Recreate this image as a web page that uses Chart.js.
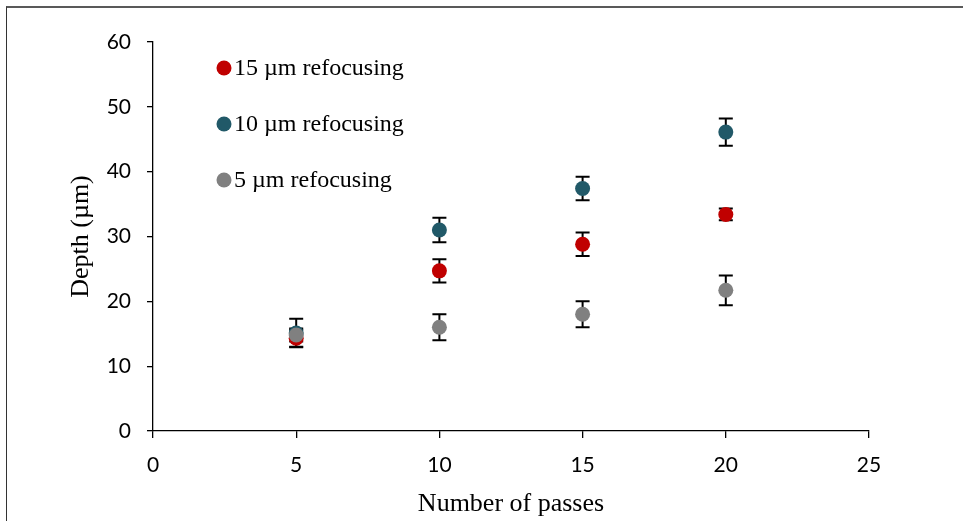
<!DOCTYPE html>
<html>
<head>
<meta charset="utf-8">
<script src="https://cdn.jsdelivr.net/npm/chart.js@4/dist/chart.umd.min.js"></script>
<style>
  html, body { margin: 0; padding: 0; background: #fff; }
  #wrap { position: relative; width: 963px; height: 521px; overflow: hidden; }
  #frame { position: absolute; left: 6px; top: 6px; width: 970px; height: 530px;
           border-top: 2px solid #595959; border-left: 1px solid #333; }
  canvas { position: absolute; left: 0; top: 0; }
</style>
</head>
<body>
<div id="wrap">
  <div id="frame"></div>
  <canvas id="c" width="963" height="521"></canvas>
</div>
<script>
// Number of passes
const passes = [5, 10, 15, 20];

// Mean depth (µm) for each refocusing step
const depth15 = [14.3, 24.7, 28.8, 33.4];
const depth10 = [15.1, 31.0, 37.4, 46.1];
const depth5  = [14.8, 16.0, 18.0, 21.7];

// Standard deviation (µm)
const err15 = [1.3, 1.8, 1.8, 0.9];
const err10 = [2.2, 1.9, 1.8, 2.1];
const err5  = [1.0, 2.0, 2.0, 2.3];

const seriesNames = ['15 µm refocusing', '10 µm refocusing', '5 µm refocusing'];
const seriesColors = ['#c00000', '#215968', '#808080'];

const xTicks = [0, 5, 10, 15, 20, 25];
const yTicks = [0, 10, 20, 30, 40, 50, 60];

const toPoints = (ys) => passes.map((x, i) => ({ x: x, y: ys[i] }));

const seriesData = [depth15, depth10, depth5];
const seriesErr = [err15, err10, err5];

// Vertical error bars with caps, drawn beneath the markers
const errorBars = {
  id: 'errorBars',
  beforeDatasetsDraw(chart) {
    const { ctx, scales: { x, y } } = chart;
    ctx.save();
    ctx.strokeStyle = '#000';
    ctx.lineWidth = 2;
    const cap = 7;
    seriesData.forEach((vals, s) => {
      vals.forEach((v, i) => {
        const px = x.getPixelForValue(passes[i]);
        const top = y.getPixelForValue(v + seriesErr[s][i]);
        const bot = y.getPixelForValue(v - seriesErr[s][i]);
        ctx.beginPath();
        ctx.moveTo(px, top); ctx.lineTo(px, bot);
        ctx.moveTo(px - cap, top); ctx.lineTo(px + cap, top);
        ctx.moveTo(px - cap, bot); ctx.lineTo(px + cap, bot);
        ctx.stroke();
      });
    });
    ctx.restore();
  }
};

// Legend placed inside the plot area, top-left
const innerLegend = {
  id: 'innerLegend',
  afterDraw(chart) {
    const { ctx } = chart;
    ctx.save();
    ctx.font = '24px "Liberation Serif", "Times New Roman", serif';
    ctx.textBaseline = 'middle';
    ctx.textAlign = 'left';
    const rows = [68, 124, 180];
    seriesNames.forEach((name, i) => {
      ctx.fillStyle = seriesColors[i];
      ctx.beginPath();
      ctx.arc(224, rows[i], 7.5, 0, Math.PI * 2);
      ctx.fill();
      ctx.fillStyle = '#000';
      ctx.fillText(name, 234, rows[i] + 1);
    });
    ctx.restore();
  }
};

const tickFont = { family: 'Lato, "Open Sans", sans-serif', size: 21 };
const titleFont = { family: '"Liberation Serif", "Times New Roman", serif', size: 26 };

new Chart(document.getElementById('c'), {
  type: 'scatter',
  data: {
    datasets: seriesData.map((vals, i) => ({
      label: seriesNames[i],
      data: toPoints(vals),
      backgroundColor: seriesColors[i],
      borderColor: seriesColors[i],
      borderWidth: 0,
      pointRadius: 7.5,
      pointHoverRadius: 7.5,
      order: 2 - i
    }))
  },
  options: {
    responsive: false,
    animation: false,
    events: [],
    layout: { padding: { left: 66, right: 94, top: 42, bottom: 0 } },
    plugins: { legend: { display: false }, tooltip: { enabled: false } },
    scales: {
      x: {
        type: 'linear', min: 0, max: 25,
        afterBuildTicks: (ax) => { ax.ticks = xTicks.map(v => ({ value: v })); },
        afterFit: (ax) => { ax.height = 90; },
        border: { color: '#000', width: 1.3 },
        grid: { display: true, drawOnChartArea: false, tickLength: 7, color: '#000', lineWidth: 1.3 },
        ticks: { color: '#000', font: tickFont, padding: 15, maxRotation: 0 },
        title: { display: true, text: 'Number of passes', color: '#000', font: titleFont, padding: { top: 2, bottom: 1 } }
      },
      y: {
        type: 'linear', min: 0, max: 60,
        afterBuildTicks: (ax) => { ax.ticks = yTicks.map(v => ({ value: v })); },
        afterFit: (ax) => { ax.width = 87; },
        border: { color: '#000', width: 1.3 },
        grid: { display: true, drawOnChartArea: false, tickLength: 6, color: '#000', lineWidth: 1.3 },
        ticks: { color: '#000', font: tickFont, padding: 16 },
        title: { display: true, text: 'Depth (µm)', color: '#000', font: titleFont, padding: { top: 0, bottom: 0 } }
      }
    }
  },
  plugins: [errorBars, innerLegend]
});
</script>
</body>
</html>
